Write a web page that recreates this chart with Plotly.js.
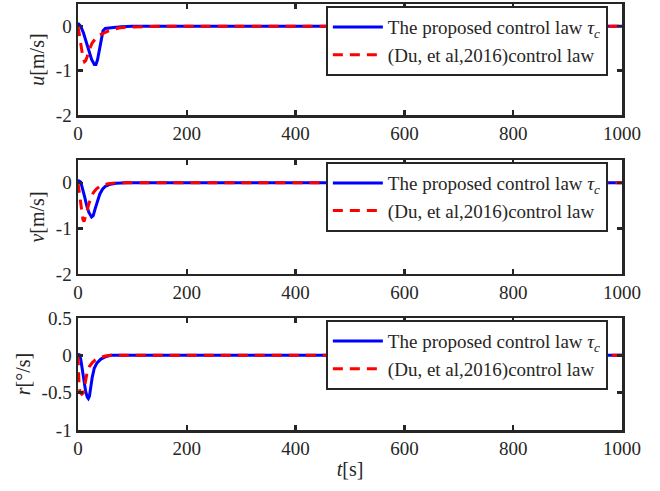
<!DOCTYPE html>
<html><head><meta charset="utf-8">
<script src="https://cdn.plot.ly/plotly-3.0.1.min.js"></script>
<style>html,body{margin:0;padding:0;background:#fff}</style>
</head><body><div id="chart" style="width:660px;height:491px"></div>
<script>
// ---- data ----
const uPropT = [0,2,5,10,15,20,25,30,33,36,40,43,46,50,55,65,80,100,150,1000];
const uPropV = [0,0.04,0,-0.15,-0.35,-0.55,-0.75,-0.86,-0.86,-0.75,-0.5,-0.28,-0.1,-0.05,-0.04,-0.03,-0.01,0,0,0];
const uDuT = [0,3,6,9,12,14,17,21,26,32,40,47,55,65,75,90,110,150,1000];
const uDuV = [0,-0.25,-0.5,-0.7,-0.8,-0.78,-0.68,-0.52,-0.38,-0.28,-0.2,-0.15,-0.11,-0.07,-0.04,-0.02,-0.01,0,0];

const vPropT = [0,2,5,8,12,16,20,25,28,32,36,40,45,50,57,70,90,1000];
const vPropV = [0,0.04,0.02,-0.1,-0.3,-0.5,-0.65,-0.75,-0.72,-0.55,-0.38,-0.25,-0.14,-0.08,-0.04,-0.01,0,0];
const vDuT = [0,3,6,9,11,13,16,19,23,28,34,40,47,55,70,1000];
const vDuV = [0,-0.3,-0.6,-0.8,-0.85,-0.78,-0.65,-0.5,-0.35,-0.22,-0.13,-0.08,-0.05,-0.02,0,0];

const rPropT = [0,2,5,8,11,14,17,19,21,23,26,30,35,42,50,60,1000];
const rPropV = [0,0.02,-0.05,-0.2,-0.35,-0.48,-0.56,-0.58,-0.55,-0.45,-0.3,-0.17,-0.1,-0.05,-0.02,0,0];
const rDuT = [0,1,2,4,7,10,12,14,17,21,26,32,40,50,60,1000];
const rDuV = [0,-0.2,-0.42,-0.5,-0.52,-0.5,-0.4,-0.3,-0.22,-0.15,-0.1,-0.06,-0.03,-0.01,0,0];

const seriesNames = ['The proposed control law <i>τ<sub>c</sub></i>', '(Du, et al,2016)control law'];
const xTicks = [0,200,400,600,800,1000];
const xTickText = ['0','200','400','600','800','1000'];
const yTicksUV = [-2,-1,0];
const yTickTextUV = ['-2','-1','0'];
const yTicksR = [-1,-0.5,0,0.5];
const yTickTextR = ['-1','-0.5','0','0.5'];

// ---- build ----
const FONT = 'Liberation Serif, Times New Roman, serif';
const AX = '#262626';
const panels = [
  {t1:uPropT,v1:uPropV,t2:uDuT,v2:uDuV},
  {t1:vPropT,v1:vPropV,t2:vDuT,v2:vDuV},
  {t1:rPropT,v1:rPropV,t2:rDuT,v2:rDuV}
];
const legNames = ['legend','legend2','legend3'];
const traces = [];
panels.forEach((p,i)=>{
  const xa = i===0 ? 'x' : 'x'+(i+1);
  const ya = i===0 ? 'y' : 'y'+(i+1);
  traces.push({x:p.t1,y:p.v1,xaxis:xa,yaxis:ya,mode:'lines',name:seriesNames[0],legend:legNames[i],
    line:{color:'#0000ff',width:3}});
  traces.push({x:p.t2,y:p.v2,xaxis:xa,yaxis:ya,mode:'lines',name:seriesNames[1],legend:legNames[i],
    line:{color:'#ff0000',width:3,dash:'10px,7px'}});
});

function xax(anchor){
  return {anchor:anchor,range:[0,1000],tickvals:xTicks,ticktext:xTickText,ticks:'inside',ticklen:5,tickwidth:2.5,tickcolor:AX,
    showline:true,linecolor:AX,linewidth:2.5,mirror:'ticks',showgrid:false,zeroline:false,
    tickfont:{family:FONT,size:19,color:AX}};
}
function yax(anchor,domain,range,tv,tt,title){
  return {anchor:anchor,domain:domain,range:range,tickvals:tv,ticktext:tt,ticks:'inside',ticklen:5,tickwidth:2.5,tickcolor:AX,
    showline:true,linecolor:AX,linewidth:2.5,mirror:'ticks',showgrid:false,zeroline:false,
    tickfont:{family:FONT,size:19,color:AX},
    title:{text:title,font:{family:FONT,size:20,color:AX},standoff:6}};
}
function leg(y){
  return {x:0.974,y:y,xanchor:'right',yanchor:'top',bgcolor:'#ffffff',bordercolor:AX,borderwidth:2,
    font:{family:FONT,size:19,color:AX},tracegroupgap:0,itemwidth:50};
}
const layout = {
  width:660,height:491,margin:{l:78,r:38,t:4,b:61},
  paper_bgcolor:'#ffffff',plot_bgcolor:'#ffffff',showlegend:true,
  xaxis:xax('y'), xaxis2:xax('y2'), xaxis3:Object.assign(xax('y3'),{title:{text:'<i>t</i>[s]',font:{family:FONT,size:20,color:AX},standoff:4}}),
  yaxis:yax('x',[0.7394,1],[-2,0.5],yTicksUV,yTickTextUV,'<i>u</i>[m/s]'),
  yaxis2:yax('x2',[0.3662,0.6338],[-2,0.5],yTicksUV,yTickTextUV,'<i>v</i>[m/s]'),
  yaxis3:yax('x3',[0,0.2629],[-1,0.5],yTicksR,yTickTextR,'<i>r</i>[°/s]'),
  legend:leg(0.995), legend2:leg(0.629), legend3:leg(0.258)
};
Plotly.newPlot('chart',traces,layout,{displayModeBar:false,staticPlot:true});
</script></body></html>
